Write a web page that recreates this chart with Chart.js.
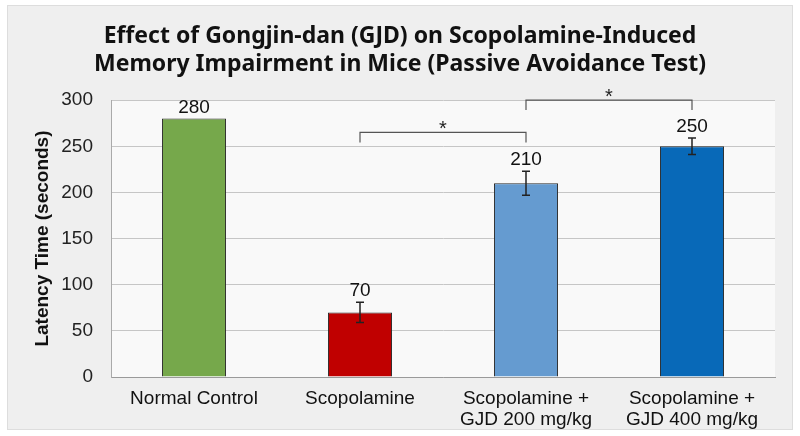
<!DOCTYPE html>
<html>
<head>
<meta charset="utf-8">
<script src="https://cdn.jsdelivr.net/npm/chart.js@4/dist/chart.umd.min.js"></script>
<style>
  html, body { margin: 0; padding: 0; background: #ffffff; }
  #wrap { width: 800px; height: 436px; }
</style>
</head>
<body>
<div id="wrap"><canvas id="chart" width="800" height="436"></canvas></div>
<script>
// data
const groups = [
  ["Normal Control"],
  ["Scopolamine"],
  ["Scopolamine +", "GJD 200 mg/kg"],
  ["Scopolamine +", "GJD 400 mg/kg"]
];
const latency = [280, 70, 210, 250];
const sem = [0, 11, 13, 9];
const yTicks = [0, 50, 100, 150, 200, 250, 300];
// significance brackets: bar index from/to, height in seconds
const brackets = [
  { from: 1, to: 2, y: 265, label: "*" },
  { from: 2, to: 3, y: 300, label: "*" }
];

const FONT = "'Liberation Sans', Arial, sans-serif";

// panel + plot background
const background = {
  id: "background",
  beforeDraw(chart) {
    const { ctx, chartArea: a } = chart;
    ctx.save();
    ctx.fillStyle = "#ffffff";
    ctx.fillRect(0, 0, chart.width, chart.height);
    ctx.fillStyle = "#efefef";
    ctx.fillRect(7, 5, 786, 425);
    ctx.strokeStyle = "#dddddd";
    ctx.lineWidth = 1;
    ctx.strokeRect(7.5, 5.5, 785, 424);
    ctx.fillStyle = "#f9f9f9";
    ctx.fillRect(a.left, a.top, a.right - a.left, a.bottom - a.top);
    ctx.restore();
  }
};

// error bars, value labels and significance brackets
const annotations = {
  id: "annotations",
  afterDatasetsDraw(chart) {
    const { ctx } = chart;
    const y = chart.scales.y;
    const meta = chart.getDatasetMeta(0);
    ctx.save();

    latency.forEach((v, i) => {
      const x = meta.data[i].x;
      const e = sem[i];
      if (e > 0) {
        const yt = y.getPixelForValue(v + e);
        const yb = y.getPixelForValue(v - e);
        ctx.strokeStyle = "#222222";
        ctx.lineWidth = 1.5;
        ctx.beginPath();
        ctx.moveTo(x, yt); ctx.lineTo(x, yb);
        ctx.moveTo(x - 4, yt); ctx.lineTo(x + 4, yt);
        ctx.moveTo(x - 4, yb); ctx.lineTo(x + 4, yb);
        ctx.stroke();
      }
      const top = y.getPixelForValue(v + e);
      ctx.fillStyle = "#111111";
      ctx.font = "19px " + FONT;
      ctx.textAlign = "center";
      ctx.textBaseline = "alphabetic";
      ctx.fillText(String(v), x, top - 6);
    });

    brackets.forEach(b => {
      const x1 = meta.data[b.from].x;
      const x2 = meta.data[b.to].x;
      const yy = y.getPixelForValue(b.y);
      ctx.strokeStyle = "#555555";
      ctx.lineWidth = 1.2;
      ctx.beginPath();
      ctx.moveTo(x1, yy + 10);
      ctx.lineTo(x1, yy);
      ctx.lineTo(x2, yy);
      ctx.lineTo(x2, yy + 10);
      ctx.stroke();
      ctx.fillStyle = "#222222";
      ctx.font = "20px " + FONT;
      ctx.textAlign = "center";
      ctx.textBaseline = "alphabetic";
      ctx.fillText(b.label, (x1 + x2) / 2, yy + 3);
    });

    ctx.restore();
  }
};

new Chart(document.getElementById("chart"), {
  type: "bar",
  data: {
    labels: groups,
    datasets: [{
      data: latency,
      backgroundColor: ["#76a84b", "#c00000", "#659bd0", "#0869b8"],
      borderColor: "#2a2a2a",
      borderWidth: 1,
      barPercentage: 0.386,
      categoryPercentage: 1
    }]
  },
  options: {
    responsive: false,
    animation: false,
    devicePixelRatio: 1,
    layout: { padding: { left: 0, right: 0, top: 0, bottom: 0 } },
    plugins: {
      legend: { display: false },
      tooltip: { enabled: false },
      title: {
        display: true,
        text: ["Effect of Gongjin-dan (GJD) on Scopolamine-Induced",
               "Memory Impairment in Mice (Passive Avoidance Test)"],
        color: "#111111",
        font: { family: "'Noto Sans', 'Open Sans', sans-serif", size: 23, weight: "bold", lineHeight: 1.22 },
        padding: { top: 22, bottom: 22 }
      }
    },
    scales: {
      x: {
        grid: { display: false, drawTicks: false },
        border: { display: true, color: "#9a9a9a", width: 1 },
        ticks: { color: "#111111", font: { family: FONT, size: 19, lineHeight: 1.1 }, padding: 11, maxRotation: 0, autoSkip: false },
        afterFit(scale) { scale.height = 59; }
      },
      y: {
        min: 0,
        max: 300,
        afterBuildTicks(scale) { scale.ticks = yTicks.map(v => ({ value: v })); },
        grid: { color: "#c6c6c6", lineWidth: 1, drawTicks: false },
        border: { display: true, color: "#aaaaaa", width: 1 },
        ticks: { color: "#222222", font: { family: FONT, size: 19 }, padding: 18 },
        title: {
          display: true,
          text: "Latency Time (seconds)",
          color: "#111111",
          font: { family: FONT, size: 19, weight: "bold", lineHeight: 1.2 },
          padding: { top: 31, bottom: 0 }
        },
        afterFit(scale) { scale.width = 111; }
      },
      yRight: {
        position: "right",
        display: true,
        grid: { display: false, drawTicks: false },
        border: { display: false },
        ticks: { display: false },
        afterFit(scale) { scale.width = 25; }
      }
    }
  },
  plugins: [background, annotations]
});
</script>
</body>
</html>
